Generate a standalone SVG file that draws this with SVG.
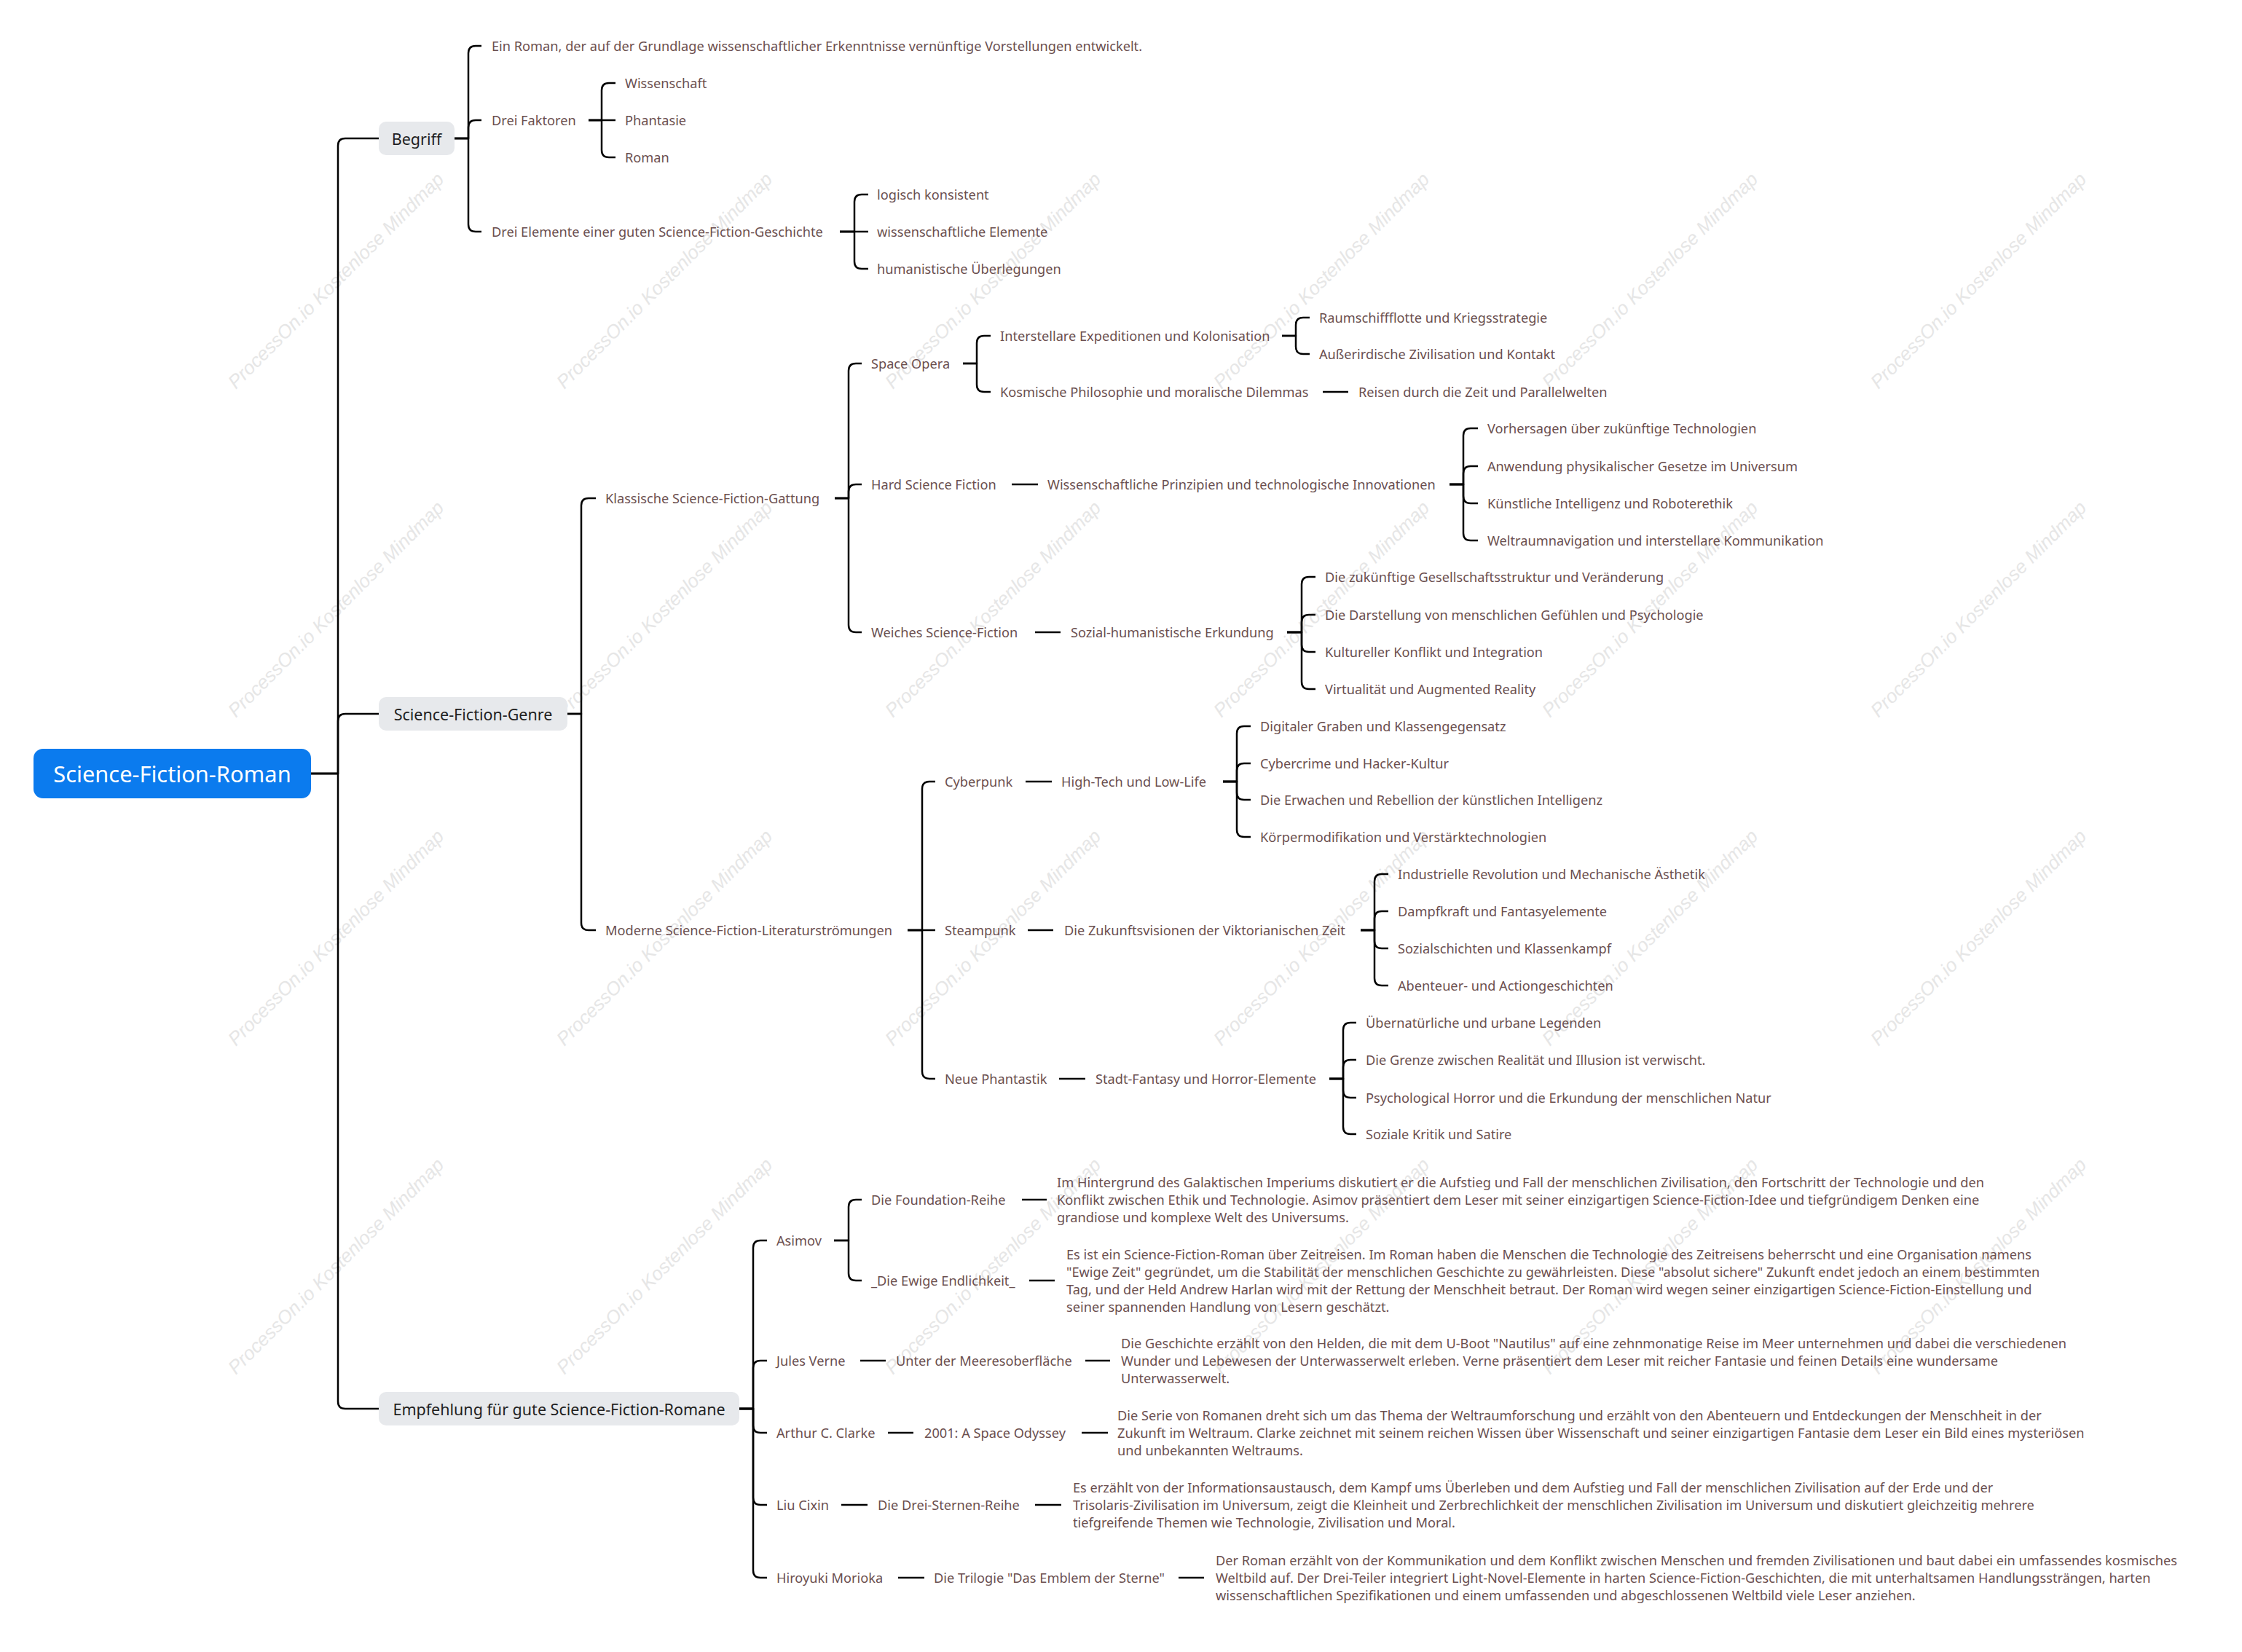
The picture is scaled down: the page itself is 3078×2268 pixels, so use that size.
<svg xmlns="http://www.w3.org/2000/svg" width="3078" height="2268" viewBox="0 0 3078 2268">
<style>
  text { font-family: "Noto Sans", "Open Sans", sans-serif; dominant-baseline: central; }
  .t { font-size: 18.2px; fill: #6b4f4f; }
  .l1 { font-size: 21.5px; fill: #1f1f1f; }
  .root { font-size: 30.8px; fill: #ffffff; }
  .box { fill: #e7e9ec; }
  .wm { font-family: "Liberation Sans", Arial, sans-serif; font-style: italic; font-size: 26px; fill: #e6e6e6; text-anchor: middle; }
  .c path { fill: none; stroke: #000; stroke-width: 2.5; stroke-linecap: butt; stroke-linejoin: round; }
</style>
<rect width="3078" height="2268" fill="#ffffff"/>
<g id="watermarks">
  <text class="wm" transform="translate(461,385) rotate(-45)">ProcessOn.io Kostenlose Mindmap</text>
  <text class="wm" transform="translate(912,385) rotate(-45)">ProcessOn.io Kostenlose Mindmap</text>
  <text class="wm" transform="translate(1363,385) rotate(-45)">ProcessOn.io Kostenlose Mindmap</text>
  <text class="wm" transform="translate(1814,385) rotate(-45)">ProcessOn.io Kostenlose Mindmap</text>
  <text class="wm" transform="translate(2265,385) rotate(-45)">ProcessOn.io Kostenlose Mindmap</text>
  <text class="wm" transform="translate(2716,385) rotate(-45)">ProcessOn.io Kostenlose Mindmap</text>
  <text class="wm" transform="translate(461,836) rotate(-45)">ProcessOn.io Kostenlose Mindmap</text>
  <text class="wm" transform="translate(912,836) rotate(-45)">ProcessOn.io Kostenlose Mindmap</text>
  <text class="wm" transform="translate(1363,836) rotate(-45)">ProcessOn.io Kostenlose Mindmap</text>
  <text class="wm" transform="translate(1814,836) rotate(-45)">ProcessOn.io Kostenlose Mindmap</text>
  <text class="wm" transform="translate(2265,836) rotate(-45)">ProcessOn.io Kostenlose Mindmap</text>
  <text class="wm" transform="translate(2716,836) rotate(-45)">ProcessOn.io Kostenlose Mindmap</text>
  <text class="wm" transform="translate(461,1287) rotate(-45)">ProcessOn.io Kostenlose Mindmap</text>
  <text class="wm" transform="translate(912,1287) rotate(-45)">ProcessOn.io Kostenlose Mindmap</text>
  <text class="wm" transform="translate(1363,1287) rotate(-45)">ProcessOn.io Kostenlose Mindmap</text>
  <text class="wm" transform="translate(1814,1287) rotate(-45)">ProcessOn.io Kostenlose Mindmap</text>
  <text class="wm" transform="translate(2265,1287) rotate(-45)">ProcessOn.io Kostenlose Mindmap</text>
  <text class="wm" transform="translate(2716,1287) rotate(-45)">ProcessOn.io Kostenlose Mindmap</text>
  <text class="wm" transform="translate(461,1738) rotate(-45)">ProcessOn.io Kostenlose Mindmap</text>
  <text class="wm" transform="translate(912,1738) rotate(-45)">ProcessOn.io Kostenlose Mindmap</text>
  <text class="wm" transform="translate(1363,1738) rotate(-45)">ProcessOn.io Kostenlose Mindmap</text>
  <text class="wm" transform="translate(1814,1738) rotate(-45)">ProcessOn.io Kostenlose Mindmap</text>
  <text class="wm" transform="translate(2265,1738) rotate(-45)">ProcessOn.io Kostenlose Mindmap</text>
  <text class="wm" transform="translate(2716,1738) rotate(-45)">ProcessOn.io Kostenlose Mindmap</text>
</g>

<g id="connectors" class="c">
  <!-- root to level 1 -->
  <path d="M427,1062 H464 V200 Q464,190 474,190 H520"/>
  <path d="M427,1062 H464 V990 Q464,980 474,980 H520"/>
  <path d="M427,1062 H464 V1924 Q464,1934 474,1934 H520"/>
  <!-- Begriff -->
  <path d="M624,190 H643 V73 Q643,63 653,63 H661"/>
  <path d="M624,190 H643 V175 Q643,165 653,165 H661"/>
  <path d="M624,190 H643 V308 Q643,318 653,318 H661"/>
  <!-- Drei Faktoren -->
  <path d="M808,165 H826 V124 Q826,114 836,114 H845"/>
  <path d="M808,165 H845"/>
  <path d="M808,165 H826 V206 Q826,216 836,216 H845"/>
  <!-- Drei Elemente -->
  <path d="M1153,318 H1173 V277 Q1173,267 1183,267 H1192"/>
  <path d="M1153,318 H1192"/>
  <path d="M1153,318 H1173 V359 Q1173,369 1183,369 H1192"/>
  <!-- Genre -->
  <path d="M779,980 H798 V694 Q798,684 808,684 H818"/>
  <path d="M779,980 H798 V1267 Q798,1277 808,1277 H818"/>
  <!-- Klassische -->
  <path d="M1146,684 H1165 V509 Q1165,499 1175,499 H1183"/>
  <path d="M1146,684 H1165 V675 Q1165,665 1175,665 H1183"/>
  <path d="M1146,684 H1165 V858 Q1165,868 1175,868 H1183"/>
  <!-- Space Opera -->
  <path d="M1322,499 H1341 V471 Q1341,461 1351,461 H1360"/>
  <path d="M1322,499 H1341 V528 Q1341,538 1351,538 H1360"/>
  <!-- Interstellare -->
  <path d="M1760,461 H1779 V446 Q1779,436 1789,436 H1798"/>
  <path d="M1760,461 H1779 V476 Q1779,486 1789,486 H1798"/>
  <!-- Kosmische -->
  <path d="M1816,538 H1851"/>
  <!-- Hard Science Fiction -->
  <path d="M1389,665 H1425"/>
  <path d="M1990,665 H2009 V598 Q2009,588 2019,588 H2029"/>
  <path d="M1990,665 H2009 V650 Q2009,640 2019,640 H2029"/>
  <path d="M1990,665 H2009 V681 Q2009,691 2019,691 H2029"/>
  <path d="M1990,665 H2009 V732 Q2009,742 2019,742 H2029"/>
  <!-- Weiches -->
  <path d="M1421,868 H1456"/>
  <path d="M1767,868 H1787 V802 Q1787,792 1797,792 H1806"/>
  <path d="M1767,868 H1787 V854 Q1787,844 1797,844 H1806"/>
  <path d="M1767,868 H1787 V885 Q1787,895 1797,895 H1806"/>
  <path d="M1767,868 H1787 V936 Q1787,946 1797,946 H1806"/>
  <!-- Moderne -->
  <path d="M1246,1277 H1266 V1083 Q1266,1073 1276,1073 H1284"/>
  <path d="M1246,1277 H1284"/>
  <path d="M1246,1277 H1266 V1471 Q1266,1481 1276,1481 H1284"/>
  <!-- Cyberpunk -->
  <path d="M1408,1073 H1444"/>
  <path d="M1679,1073 H1698 V1007 Q1698,997 1708,997 H1717"/>
  <path d="M1679,1073 H1698 V1058 Q1698,1048 1708,1048 H1717"/>
  <path d="M1679,1073 H1698 V1088 Q1698,1098 1708,1098 H1717"/>
  <path d="M1679,1073 H1698 V1139 Q1698,1149 1708,1149 H1717"/>
  <!-- Steampunk -->
  <path d="M1411,1277 H1446"/>
  <path d="M1868,1277 H1887 V1210 Q1887,1200 1897,1200 H1906"/>
  <path d="M1868,1277 H1887 V1261 Q1887,1251 1897,1251 H1906"/>
  <path d="M1868,1277 H1887 V1292 Q1887,1302 1897,1302 H1906"/>
  <path d="M1868,1277 H1887 V1343 Q1887,1353 1897,1353 H1906"/>
  <!-- Neue Phantastik -->
  <path d="M1454,1481 H1490"/>
  <path d="M1825,1481 H1844 V1414 Q1844,1404 1854,1404 H1862"/>
  <path d="M1825,1481 H1844 V1465 Q1844,1455 1854,1455 H1862"/>
  <path d="M1825,1481 H1844 V1497 Q1844,1507 1854,1507 H1862"/>
  <path d="M1825,1481 H1844 V1547 Q1844,1557 1854,1557 H1862"/>
  <!-- Empfehlung -->
  <path d="M1015,1934 H1034 V1713 Q1034,1703 1044,1703 H1053"/>
  <path d="M1015,1934 H1034 V1878 Q1034,1868 1044,1868 H1053"/>
  <path d="M1015,1934 H1034 V1957 Q1034,1967 1044,1967 H1053"/>
  <path d="M1015,1934 H1034 V2056 Q1034,2066 1044,2066 H1053"/>
  <path d="M1015,1934 H1034 V2156 Q1034,2166 1044,2166 H1053"/>
  <!-- Asimov -->
  <path d="M1145,1703 H1165 V1657 Q1165,1647 1175,1647 H1183"/>
  <path d="M1145,1703 H1165 V1748 Q1165,1758 1175,1758 H1183"/>
  <path d="M1403,1647 H1437"/>
  <path d="M1413,1758 H1448"/>
  <!-- Jules Verne -->
  <path d="M1181,1868 H1216"/>
  <path d="M1490,1868 H1524"/>
  <!-- Arthur C. Clarke -->
  <path d="M1219,1967 H1254"/>
  <path d="M1485,1967 H1521"/>
  <!-- Liu Cixin -->
  <path d="M1155,2066 H1191"/>
  <path d="M1421,2066 H1457"/>
  <!-- Hiroyuki Morioka -->
  <path d="M1233,2166 H1269"/>
  <path d="M1618,2166 H1653"/>
</g>

<g id="node-root">
  <rect x="46" y="1028" width="381" height="68" rx="13" fill="#0b7bee"/>
  <text class="root" x="236.5" y="1062" text-anchor="middle">Science-Fiction-Roman</text>
</g>

<g id="node-begriff">
  <rect class="box" x="520" y="167" width="104" height="46" rx="10"/>
  <text class="l1" x="572" y="190" text-anchor="middle">Begriff</text>
</g>
<g id="node-begriff-def"><text class="t" x="675" y="63">Ein Roman, der auf der Grundlage wissenschaftlicher Erkenntnisse vernünftige Vorstellungen entwickelt.</text></g>
<g id="node-drei-faktoren"><text class="t" x="675" y="165">Drei Faktoren</text></g>
<g id="node-wissenschaft"><text class="t" x="858" y="114">Wissenschaft</text></g>
<g id="node-phantasie"><text class="t" x="858" y="165">Phantasie</text></g>
<g id="node-roman"><text class="t" x="858" y="216">Roman</text></g>
<g id="node-drei-elemente"><text class="t" x="675" y="318">Drei Elemente einer guten Science-Fiction-Geschichte</text></g>
<g id="node-logisch"><text class="t" x="1204" y="267">logisch konsistent</text></g>
<g id="node-wiss-elemente"><text class="t" x="1204" y="318">wissenschaftliche Elemente</text></g>
<g id="node-humanistisch"><text class="t" x="1204" y="369">humanistische Überlegungen</text></g>

<g id="node-genre">
  <rect class="box" x="520" y="957" width="259" height="46" rx="10"/>
  <text class="l1" x="649.5" y="980" text-anchor="middle">Science-Fiction-Genre</text>
</g>
<g id="node-klassisch"><text class="t" x="831" y="684">Klassische Science-Fiction-Gattung</text></g>
<g id="node-space-opera"><text class="t" x="1196" y="499">Space Opera</text></g>
<g id="node-interstellar"><text class="t" x="1373" y="461">Interstellare Expeditionen und Kolonisation</text></g>
<g id="node-raumschiff"><text class="t" x="1811" y="436">Raumschiffflotte und Kriegsstrategie</text></g>
<g id="node-ausserirdisch"><text class="t" x="1811" y="486">Außerirdische Zivilisation und Kontakt</text></g>
<g id="node-kosmisch"><text class="t" x="1373" y="538">Kosmische Philosophie und moralische Dilemmas</text></g>
<g id="node-reisen"><text class="t" x="1865" y="538">Reisen durch die Zeit und Parallelwelten</text></g>
<g id="node-hard-sf"><text class="t" x="1196" y="665">Hard Science Fiction</text></g>
<g id="node-prinzipien"><text class="t" x="1438" y="665">Wissenschaftliche Prinzipien und technologische Innovationen</text></g>
<g id="node-vorhersagen"><text class="t" x="2042" y="588">Vorhersagen über zukünftige Technologien</text></g>
<g id="node-anwendung"><text class="t" x="2042" y="640">Anwendung physikalischer Gesetze im Universum</text></g>
<g id="node-ki"><text class="t" x="2042" y="691">Künstliche Intelligenz und Roboterethik</text></g>
<g id="node-navigation"><text class="t" x="2042" y="742">Weltraumnavigation und interstellare Kommunikation</text></g>
<g id="node-weiches"><text class="t" x="1196" y="868">Weiches Science-Fiction</text></g>
<g id="node-sozial"><text class="t" x="1470" y="868">Sozial-humanistische Erkundung</text></g>
<g id="node-gesellschaft"><text class="t" x="1819" y="792">Die zukünftige Gesellschaftsstruktur und Veränderung</text></g>
<g id="node-gefuehle"><text class="t" x="1819" y="844">Die Darstellung von menschlichen Gefühlen und Psychologie</text></g>
<g id="node-kultur"><text class="t" x="1819" y="895">Kultureller Konflikt und Integration</text></g>
<g id="node-virtual"><text class="t" x="1819" y="946">Virtualität und Augmented Reality</text></g>
<g id="node-moderne"><text class="t" x="831" y="1277">Moderne Science-Fiction-Literaturströmungen</text></g>
<g id="node-cyberpunk"><text class="t" x="1297" y="1073">Cyberpunk</text></g>
<g id="node-hightech"><text class="t" x="1457" y="1073">High-Tech und Low-Life</text></g>
<g id="node-digital"><text class="t" x="1730" y="997">Digitaler Graben und Klassengegensatz</text></g>
<g id="node-cybercrime"><text class="t" x="1730" y="1048">Cybercrime und Hacker-Kultur</text></g>
<g id="node-erwachen"><text class="t" x="1730" y="1098">Die Erwachen und Rebellion der künstlichen Intelligenz</text></g>
<g id="node-koerper"><text class="t" x="1730" y="1149">Körpermodifikation und Verstärktechnologien</text></g>
<g id="node-steampunk"><text class="t" x="1297" y="1277">Steampunk</text></g>
<g id="node-viktorianisch"><text class="t" x="1461" y="1277">Die Zukunftsvisionen der Viktorianischen Zeit</text></g>
<g id="node-industrie"><text class="t" x="1919" y="1200">Industrielle Revolution und Mechanische Ästhetik</text></g>
<g id="node-dampf"><text class="t" x="1919" y="1251">Dampfkraft und Fantasyelemente</text></g>
<g id="node-sozialschichten"><text class="t" x="1919" y="1302">Sozialschichten und Klassenkampf</text></g>
<g id="node-abenteuer"><text class="t" x="1919" y="1353">Abenteuer- und Actiongeschichten</text></g>
<g id="node-neue-phantastik"><text class="t" x="1297" y="1481">Neue Phantastik</text></g>
<g id="node-stadt-fantasy"><text class="t" x="1504" y="1481">Stadt-Fantasy und Horror-Elemente</text></g>
<g id="node-legenden"><text class="t" x="1875" y="1404">Übernatürliche und urbane Legenden</text></g>
<g id="node-grenze"><text class="t" x="1875" y="1455">Die Grenze zwischen Realität und Illusion ist verwischt.</text></g>
<g id="node-horror"><text class="t" x="1875" y="1507">Psychological Horror und die Erkundung der menschlichen Natur</text></g>
<g id="node-kritik"><text class="t" x="1875" y="1557">Soziale Kritik und Satire</text></g>

<g id="node-empfehlung">
  <rect class="box" x="520" y="1911" width="495" height="46" rx="10"/>
  <text class="l1" x="767.5" y="1934" text-anchor="middle">Empfehlung für gute Science-Fiction-Romane</text>
</g>
<g id="node-asimov"><text class="t" x="1066" y="1703">Asimov</text></g>
<g id="node-foundation"><text class="t" x="1196" y="1647">Die Foundation-Reihe</text></g>
<g id="node-foundation-desc"><text class="t" x="1451" y="1623"><tspan x="1451" y="1623">Im Hintergrund des Galaktischen Imperiums diskutiert er die Aufstieg und Fall der menschlichen Zivilisation, den Fortschritt der Technologie und den</tspan><tspan x="1451" y="1647">Konflikt zwischen Ethik und Technologie. Asimov präsentiert dem Leser mit seiner einzigartigen Science-Fiction-Idee und tiefgründigem Denken eine</tspan><tspan x="1451" y="1671">grandiose und komplexe Welt des Universums.</tspan></text></g>
<g id="node-ewige"><text class="t" x="1196" y="1758">_Die Ewige Endlichkeit_</text></g>
<g id="node-ewige-desc"><text class="t" x="1464" y="1722"><tspan x="1464" y="1722">Es ist ein Science-Fiction-Roman über Zeitreisen. Im Roman haben die Menschen die Technologie des Zeitreisens beherrscht und eine Organisation namens</tspan><tspan x="1464" y="1746">"Ewige Zeit" gegründet, um die Stabilität der menschlichen Geschichte zu gewährleisten. Diese "absolut sichere" Zukunft endet jedoch an einem bestimmten</tspan><tspan x="1464" y="1770">Tag, und der Held Andrew Harlan wird mit der Rettung der Menschheit betraut. Der Roman wird wegen seiner einzigartigen Science-Fiction-Einstellung und</tspan><tspan x="1464" y="1794">seiner spannenden Handlung von Lesern geschätzt.</tspan></text></g>
<g id="node-verne"><text class="t" x="1066" y="1868">Jules Verne</text></g>
<g id="node-meer"><text class="t" x="1230" y="1868">Unter der Meeresoberfläche</text></g>
<g id="node-meer-desc"><text class="t" x="1539" y="1844"><tspan x="1539" y="1844">Die Geschichte erzählt von den Helden, die mit dem U-Boot "Nautilus" auf eine zehnmonatige Reise im Meer unternehmen und dabei die verschiedenen</tspan><tspan x="1539" y="1868">Wunder und Lebewesen der Unterwasserwelt erleben. Verne präsentiert dem Leser mit reicher Fantasie und feinen Details eine wundersame</tspan><tspan x="1539" y="1892">Unterwasserwelt.</tspan></text></g>
<g id="node-clarke"><text class="t" x="1066" y="1967">Arthur C. Clarke</text></g>
<g id="node-odyssey"><text class="t" x="1269" y="1967">2001: A Space Odyssey</text></g>
<g id="node-odyssey-desc"><text class="t" x="1534" y="1943"><tspan x="1534" y="1943">Die Serie von Romanen dreht sich um das Thema der Weltraumforschung und erzählt von den Abenteuern und Entdeckungen der Menschheit in der</tspan><tspan x="1534" y="1967">Zukunft im Weltraum. Clarke zeichnet mit seinem reichen Wissen über Wissenschaft und seiner einzigartigen Fantasie dem Leser ein Bild eines mysteriösen</tspan><tspan x="1534" y="1991">und unbekannten Weltraums.</tspan></text></g>
<g id="node-liu"><text class="t" x="1066" y="2066">Liu Cixin</text></g>
<g id="node-drei-sternen"><text class="t" x="1205" y="2066">Die Drei-Sternen-Reihe</text></g>
<g id="node-drei-sternen-desc"><text class="t" x="1473" y="2042"><tspan x="1473" y="2042">Es erzählt von der Informationsaustausch, dem Kampf ums Überleben und dem Aufstieg und Fall der menschlichen Zivilisation auf der Erde und der</tspan><tspan x="1473" y="2066">Trisolaris-Zivilisation im Universum, zeigt die Kleinheit und Zerbrechlichkeit der menschlichen Zivilisation im Universum und diskutiert gleichzeitig mehrere</tspan><tspan x="1473" y="2090">tiefgreifende Themen wie Technologie, Zivilisation und Moral.</tspan></text></g>
<g id="node-morioka"><text class="t" x="1066" y="2166">Hiroyuki Morioka</text></g>
<g id="node-emblem"><text class="t" x="1282" y="2166">Die Trilogie "Das Emblem der Sterne"</text></g>
<g id="node-emblem-desc"><text class="t" x="1669" y="2142"><tspan x="1669" y="2142">Der Roman erzählt von der Kommunikation und dem Konflikt zwischen Menschen und fremden Zivilisationen und baut dabei ein umfassendes kosmisches</tspan><tspan x="1669" y="2166">Weltbild auf. Der Drei-Teiler integriert Light-Novel-Elemente in harten Science-Fiction-Geschichten, die mit unterhaltsamen Handlungssträngen, harten</tspan><tspan x="1669" y="2190">wissenschaftlichen Spezifikationen und einem umfassenden und abgeschlossenen Weltbild viele Leser anziehen.</tspan></text></g>
</svg>
